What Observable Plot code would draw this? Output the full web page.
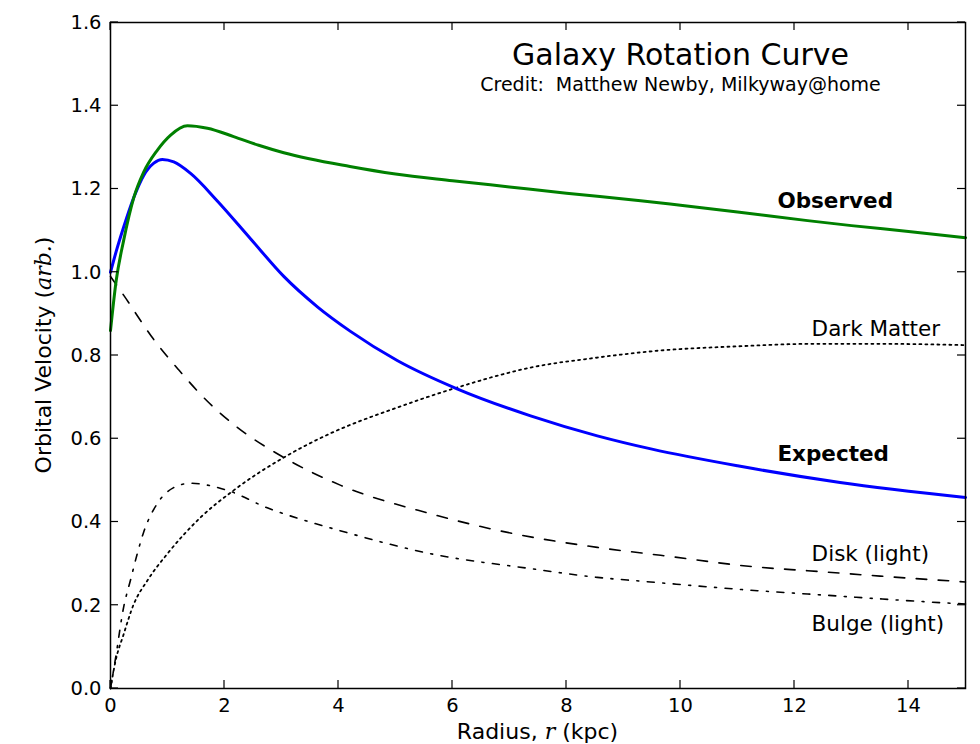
<!DOCTYPE html>
<html><head><meta charset="utf-8">
<script src="https://cdn.jsdelivr.net/npm/d3@7"></script>
<script src="https://cdn.jsdelivr.net/npm/@observablehq/plot@0.6"></script>
<style>
body{margin:0;background:#fff;}
#chart svg{display:block;}
</style></head><body><div id="chart"></div>
<script>
// ---- data ----
const observedR = [0, 0.1, 0.23, 0.41, 0.58, 0.82, 1.05, 1.35, 1.7, 2.16, 2.6, 3.04, 4.2, 5, 6, 7, 8, 9.3, 10, 11, 12.23, 13, 14, 15];
const observedV = [0.86, 0.98, 1.076, 1.18, 1.24, 1.293, 1.329, 1.352, 1.346, 1.326, 1.305, 1.287, 1.254, 1.236, 1.22, 1.205, 1.19, 1.172, 1.161, 1.145, 1.124, 1.112, 1.098, 1.083];

const expectedR = [0, 0.1, 0.23, 0.41, 0.58, 0.76, 0.91, 1.11, 1.4, 1.87, 2.46, 3.04, 3.63, 4.21, 5.03, 6.08, 7.37, 8.54, 9.5, 11, 12.8, 15];
const expectedV = [1.0, 1.05, 1.108, 1.18, 1.232, 1.262, 1.271, 1.265, 1.238, 1.172, 1.08, 0.99, 0.917, 0.858, 0.788, 0.72, 0.655, 0.607, 0.575, 0.535, 0.495, 0.459];

const darkR = [0, 0.09, 0.23, 0.4, 0.65, 1.0, 1.58, 2.16, 3.04, 3.86, 5.03, 6.08, 7.37, 8.54, 9.65, 11, 12.3, 13.5, 15];
const darkV = [0, 0.067, 0.13, 0.2, 0.26, 0.324, 0.411, 0.476, 0.555, 0.613, 0.675, 0.723, 0.771, 0.795, 0.812, 0.822, 0.828, 0.828, 0.825];

const diskR = [0, 0.23, 0.75, 1.2, 1.7, 2.2, 3.04, 4.04, 5.61, 7.07, 8.54, 9.65, 11.4, 12.23, 13.5, 15];
const diskV = [0.99, 0.945, 0.84, 0.765, 0.69, 0.63, 0.555, 0.488, 0.42, 0.372, 0.339, 0.32, 0.291, 0.283, 0.27, 0.256];

const bulgeR = [0, 0.09, 0.23, 0.35, 0.47, 0.58, 0.82, 1.1, 1.4, 2.05, 2.75, 3.45, 3.98, 5.61, 7.37, 8.54, 9.3, 11.35, 12.23, 14.86, 15];
const bulgeV = [0, 0.074, 0.195, 0.26, 0.324, 0.375, 0.444, 0.482, 0.493, 0.476, 0.434, 0.402, 0.381, 0.324, 0.288, 0.267, 0.258, 0.235, 0.227, 0.204, 0.203];

const xTicks = [0, 2, 4, 6, 8, 10, 12, 14];
const yTicks = [0, 0.2, 0.4, 0.6, 0.8, 1.0, 1.2, 1.4, 1.6];

const titleText = "Galaxy Rotation Curve";
const creditText = "Credit:\u00a0\u00a0Matthew Newby, Milkyway@home";

// ---- build tables ----
const toRows = (rs, vs) => rs.map((r, i) => ({r, v: vs[i]}));
const observed = toRows(observedR, observedV);
const expected = toRows(expectedR, expectedV);
const dark = toRows(darkR, darkV);
const disk = toRows(diskR, diskV);
const bulge = toRows(bulgeR, bulgeV);

const font = "DejaVu Sans";
const curve = "monotone-x";
const tick = 8;

const chart = Plot.plot({
  width: 980,
  height: 744,
  marginLeft: 110,
  marginRight: 15,
  marginTop: 22,
  marginBottom: 56,
  style: {fontFamily: font, fontSize: "19.5px", color: "#000", background: "#fff", overflow: "visible"},
  x: {domain: [0, 15]},
  y: {domain: [0, 1.6]},
  marks: [
    // black component curves
    Plot.line(dark, {x: "r", y: "v", stroke: "#000", strokeWidth: 1.8, strokeDasharray: "2,4", curve}),
    Plot.line(disk, {x: "r", y: "v", stroke: "#000", strokeWidth: 1.6, strokeDasharray: "10.5,11.5", curve}),
    Plot.line(bulge, {x: "r", y: "v", stroke: "#000", strokeWidth: 1.6, strokeDasharray: "7,8.5,2,8.5", curve}),
    // main curves
    Plot.line(expected, {x: "r", y: "v", stroke: "#0000ff", strokeWidth: 3, curve}),
    Plot.line(observed, {x: "r", y: "v", stroke: "#008000", strokeWidth: 3, curve}),
    // frame
    Plot.frame({stroke: "#000", strokeWidth: 1.5}),
    // tick labels
    Plot.axisX({ticks: xTicks, anchor: "bottom", tickSize: 0, tickPadding: 10, label: null, tickFormat: d => String(d), fill: "#000"}),
    Plot.axisY({ticks: yTicks, anchor: "left", tickSize: 0, tickPadding: 9, label: null, tickFormat: d3.format(".1f"), fill: "#000"}),
    // title and credit
    Plot.text([titleText], {x: 10, y: 1.52, text: d => d, textAnchor: "middle", lineAnchor: "middle", fontSize: 30, fill: "#000"}),
    Plot.text([creditText], {x: 10, y: 1.449, text: d => d, textAnchor: "middle", lineAnchor: "middle", fontSize: 19, fill: "#000"}),
    // curve labels
    Plot.text(["Observed"], {x: 11.7, y: 1.172, text: d => d, textAnchor: "start", lineAnchor: "middle", fontSize: 21.5, fontWeight: "bold", fill: "#000"}),
    Plot.text(["Expected"], {x: 11.7, y: 0.564, text: d => d, textAnchor: "start", lineAnchor: "middle", fontSize: 21.5, fontWeight: "bold", fill: "#000"}),
    Plot.text(["Dark Matter"], {x: 12.3, y: 0.864, text: d => d, textAnchor: "start", lineAnchor: "middle", fontSize: 21.5, fill: "#000"}),
    Plot.text(["Disk (light)"], {x: 12.3, y: 0.324, text: d => d, textAnchor: "start", lineAnchor: "middle", fontSize: 21.5, fill: "#000"}),
    Plot.text(["Bulge (light)"], {x: 12.3, y: 0.155, text: d => d, textAnchor: "start", lineAnchor: "middle", fontSize: 21.5, fill: "#000"})
  ]
});

document.getElementById("chart").appendChild(chart);

const svg = d3.select(chart);
const sx = chart.scale("x"), sy = chart.scale("y");
const [x0, x1] = sx.range;
const [yb, yt] = sy.range; // bottom, top

// inward ticks on all four sides, placed with Plot's own scales
const tg = svg.append("g").attr("stroke", "#000").attr("stroke-width", 1.2);
xTicks.forEach(t => {
  const px = sx.apply(t);
  tg.append("line").attr("x1", px).attr("x2", px).attr("y1", yb).attr("y2", yb - tick);
  tg.append("line").attr("x1", px).attr("x2", px).attr("y1", yt).attr("y2", yt + tick);
});
yTicks.forEach(t => {
  const py = sy.apply(t);
  tg.append("line").attr("x1", x0).attr("x2", x0 + tick).attr("y1", py).attr("y2", py);
  tg.append("line").attr("x1", x1).attr("x2", x1 - tick).attr("y1", py).attr("y2", py);
});

// axis titles with italic math parts
const xl = svg.append("text")
  .attr("x", (x0 + x1) / 2)
  .attr("y", 739)
  .attr("text-anchor", "middle")
  .attr("font-family", font)
  .attr("font-size", 22)
  .attr("fill", "#000");
xl.append("tspan").text("Radius, ");
xl.append("tspan").attr("font-family", "DejaVu Serif").attr("font-style", "italic").text("r");
xl.append("tspan").text(" (kpc)");

const yl = svg.append("text")
  .attr("transform", `translate(51,${(yb + yt) / 2}) rotate(-90)`)
  .attr("text-anchor", "middle")
  .attr("font-family", font)
  .attr("font-size", 22)
  .attr("fill", "#000");
yl.append("tspan").text("Orbital Velocity (");
yl.append("tspan").attr("font-family", "DejaVu Serif").attr("font-style", "italic").text("arb.");
yl.append("tspan").text(")");
</script>
</body></html>
